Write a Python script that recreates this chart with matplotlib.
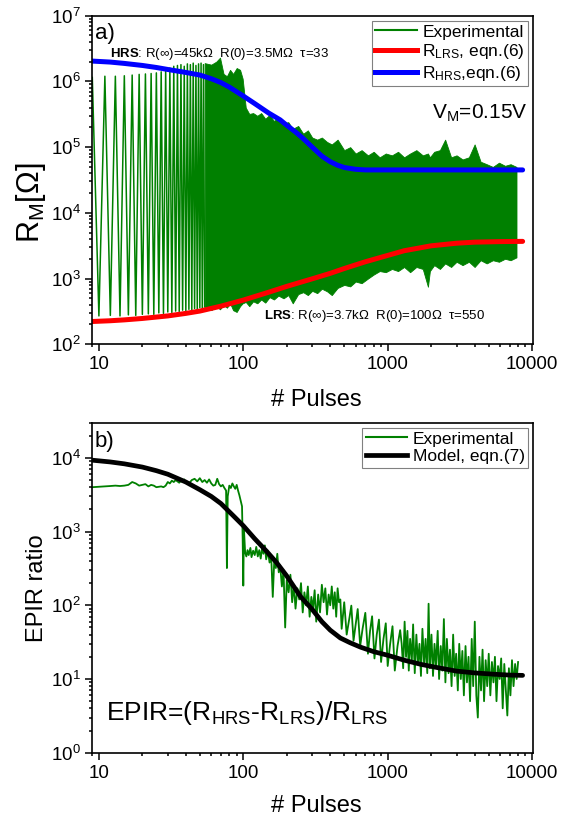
import numpy as np
import matplotlib.pyplot as plt
from matplotlib import ticker
from matplotlib.lines import Line2D

plt.rcParams['font.family'] = ['Liberation Sans', 'DejaVu Sans']
plt.rcParams['mathtext.fontset'] = 'custom'
plt.rcParams['mathtext.rm'] = 'Liberation Sans'
plt.rcParams['mathtext.it'] = 'Liberation Sans:italic'
plt.rcParams['mathtext.bf'] = 'Liberation Sans:bold'

GREEN = '#008000'

# ---- panel a) : resistance after each pulse ----
# first pulses: odd pulses read HRS, even pulses read LRS
sparse_high = [1.15e6, 1.2e6, 1.2e6, 1.22e6, 1.25e6, 1.28e6, 1.3e6, 1.32e6, 1.35e6, 1.4e6, 1.5e6, 1.6e6,
               1.7e6, 1.75e6, 1.8e6, 1.7e6, 1.85e6, 1.8e6, 1.9e6, 1.75e6, 1.85e6, 1.9e6, 1.8e6]
sparse_low = [270, 275, 270, 280, 275, 285, 290, 285, 300, 295, 310, 305, 320, 315, 330, 325, 340, 335,
              350, 340, 360, 355, 370]

# later pulses switch too fast to resolve: upper / lower envelope of the switching band
dense_n = [54, 60, 65, 69, 73, 77, 81, 85, 90, 95, 99, 104, 110, 117, 125, 133, 142, 152, 163, 175, 190,
           205, 220, 240, 260, 280, 300, 325, 350, 380, 410, 450, 500, 550, 600, 660, 730, 800, 880, 970,
           1070, 1180, 1300, 1430, 1580, 1750, 1900, 1960, 2100, 2300, 2500, 2750, 3000, 3300, 3650,
           4000, 4400, 4850, 5350, 5900, 6500, 7100, 7800]
dense_high = [1.9e6, 1.8e6, 2.0e6, 2.3e6, 1.3e6, 1.2e6, 1.5e6, 1.3e6, 1.6e6, 1.5e6, 1.1e6, 4e5, 3.2e5,
              3.3e5, 3.0e5, 3.3e5, 2.7e5, 3.1e5, 2.5e5, 2.8e5, 2.3e5, 2.4e5, 1.9e5, 2.1e5, 1.6e5, 1.8e5,
              1.4e5, 1.3e5, 1.4e5, 1.2e5, 1.1e5, 1.3e5, 9e4, 1.0e5, 8e4, 9e4, 7.5e4, 8.5e4, 7e4, 8e4,
              7.5e4, 8.5e4, 7e4, 8e4, 9e4, 7.5e4, 8e4, 7e4, 8.5e4, 9e4, 1.3e5, 7e4, 7.5e4, 6.5e4, 7e4,
              1.1e5, 6e4, 5.5e4, 5e4, 5.8e4, 5.2e4, 5.5e4, 5e4]
dense_low = [370, 330, 380, 340, 400, 360, 420, 330, 310, 380, 420, 440, 380, 450, 420, 480, 430, 520,
             480, 550, 500, 560, 420, 580, 620, 560, 650, 600, 700, 640, 560, 720, 800, 760, 900, 850,
             1000, 1150, 1300, 1250, 1400, 1300, 1500, 1250, 1500, 1400, 750, 1300, 1600, 1400, 1700,
             1500, 1800, 1600, 1800, 1500, 1900, 1700, 1900, 1800, 2000, 1900, 2100]

# eqn.(6) curves
hrs_n = [9, 12, 15, 20, 25, 30, 40, 50, 60, 70, 80, 100, 120, 150, 180, 200, 230, 260, 300, 350, 400,
         450, 500, 600, 700, 850, 1000, 1500, 2000, 3000, 5000, 8600]
hrs_fit = [2.04e6, 1.97e6, 1.88e6, 1.75e6, 1.63e6, 1.52e6, 1.37e6, 1.25e6, 1.1e6, 9.6e5, 8.2e5, 6e5,
           4.6e5, 3.3e5, 2.6e5, 2.15e5, 1.7e5, 1.35e5, 1.0e5, 7.3e4, 6e4, 5.3e4, 4.9e4, 4.6e4, 4.5e4,
           4.5e4, 4.5e4, 4.5e4, 4.5e4, 4.5e4, 4.5e4, 4.5e4]
lrs_n = [9, 12, 15, 20, 30, 40, 50, 70, 100, 150, 200, 250, 300, 400, 500, 700, 1000, 1300, 1700, 2000,
         3000, 4000, 6000, 8600]
lrs_fit = [222, 228, 235, 247, 270, 295, 320, 380, 470, 620, 760, 880, 990, 1200, 1420, 1800, 2250,
           2650, 2950, 3150, 3450, 3580, 3650, 3680]

# ---- panel b) : EPIR ratio ----
epir_n = [9, 10, 11, 12, 13, 14, 15, 16, 17, 18, 19, 20, 21, 22, 23, 24, 25, 26, 27, 28, 29, 30, 31, 32,
          33, 34, 35, 36, 37, 38, 39, 40, 42, 44, 46, 48, 50, 52, 54, 56, 58, 60, 62, 64, 66, 68, 70,
          72, 74, 76, 77, 78, 80, 82, 84, 86, 88, 90, 92, 94, 96, 98, 99, 100, 101, 103, 105, 107, 109,
          112, 114, 117, 120, 123, 126, 129, 132, 135, 138, 141, 144, 148, 152, 156, 160, 164, 168, 172,
          176, 180, 185, 190, 195, 200, 206, 212, 218, 224, 230, 237, 244, 251, 258, 265, 272, 280, 288,
          296, 304, 312, 320, 330, 340, 350, 360, 370, 380, 390, 400, 410, 420, 430, 440, 450, 460, 470,
          480, 500, 520, 545, 560, 580, 600, 620, 645, 670, 700, 730, 755, 780, 810, 840, 870, 900, 935,
          970, 1000, 1040, 1080, 1120, 1170, 1220, 1250, 1280, 1310, 1340, 1370, 1400, 1430, 1470, 1500,
          1540, 1580, 1620, 1660, 1700, 1740, 1790, 1830, 1880, 1920, 1960, 2010, 2060, 2110, 2160, 2220,
          2270, 2330, 2390, 2450, 2510, 2570, 2640, 2700, 2770, 2840, 2910, 2980, 3060, 3130, 3210, 3290,
          3370, 3460, 3540, 3630, 3720, 3820, 3910, 4010, 4110, 4210, 4320, 4430, 4540, 4650, 4770, 4890,
          5010, 5140, 5270, 5400, 5530, 5670, 5810, 5960, 6110, 6260, 6420, 6580, 6740, 6910, 7080, 7260,
          7440, 7630, 7820, 8000]
epir_val = [4000, 4050, 4100, 4150, 4200, 4150, 4200, 4300, 4700, 4500, 4200, 4300, 4400, 4100, 4300,
            4200, 4000, 4050, 4100, 4000, 4200, 4700, 4500, 4900, 4700, 5000, 4800, 4600, 4900, 4700,
            5100, 4600, 4500, 5000, 5200, 4800, 5300, 4700, 5000, 4600, 5100, 4500, 4200, 4300, 5200,
            4400, 4100, 4300, 3900, 3600, 320, 3000, 4200, 3900, 4500, 4100, 3800, 4300, 3600, 3100,
            2600, 2200, 800, 185, 1100, 520, 460, 560, 480, 600, 450, 550, 480, 620, 460, 560, 430, 600,
            500, 650, 420, 550, 380, 480, 130, 420, 320, 500, 280, 350, 180, 300, 50, 220, 150, 260, 110,
            190, 90, 170, 120, 200, 80, 150, 100, 180, 70, 130, 90, 160, 60, 140, 80, 190, 110, 170, 75,
            140, 100, 180, 90, 150, 70, 170, 110, 120, 48, 110, 40, 70, 99, 33, 55, 89, 28, 48, 79, 22,
            45, 71, 19, 40, 64, 17, 35, 57, 15, 30, 52, 13, 28, 46, 30, 14, 60, 20, 45, 13, 35, 18, 55,
            12, 40, 16, 30, 11, 48, 15, 35, 12, 105, 14, 40, 11, 30, 15, 45, 10, 28, 13, 65, 9, 35, 12,
            25, 8, 40, 11, 22, 7, 30, 10, 24, 6, 28, 9, 20, 5, 35, 8, 60, 6, 3, 20, 7, 25, 5, 18, 8, 22,
            6, 17, 9, 20, 5, 15, 10, 19, 4, 16, 7, 3.2, 14, 6, 18, 8, 16, 10, 17]

# eqn.(7) curve
model_n = [9, 12, 15, 20, 25, 30, 40, 50, 60, 70, 85, 100, 120, 145, 170, 200, 250, 300, 350, 400, 470,
           550, 650, 800, 1000, 1300, 1700, 2200, 3000, 4000, 5500, 7000, 8600]
model_epir = [9300, 8800, 8300, 7500, 6700, 6000, 4700, 3700, 3000, 2400, 1650, 1200, 800, 540, 380,
              250, 130, 88, 60, 46, 36, 31, 27, 23.5, 21, 18, 15.8, 14.3, 12.8, 12.1, 11.6, 11.3, 11.2]

fig = plt.figure(figsize=(5.79, 8.23), dpi=100)
ax1 = fig.add_axes([0.1594, 0.5817, 0.7617, 0.3992])
ax2 = fig.add_axes([0.1594, 0.0854, 0.7617, 0.4010])

# zigzag for the resolved pulses
sp_n = np.arange(9, 9 + 2 * len(sparse_high))
sp_r = np.empty(len(sp_n))
sp_r[0::2] = sparse_high
sp_r[1::2] = sparse_low
ax1.plot(sp_n, sp_r, color=GREEN, lw=1.1)
ax1.fill_between(dense_n, dense_low, dense_high, color=GREEN, lw=0.6, edgecolor=GREEN)
ax1.plot(lrs_n, lrs_fit, color='#ff0000', lw=3.6, solid_capstyle='round')
ax1.plot(hrs_n, hrs_fit, color='#0000ff', lw=3.6, solid_capstyle='round')

ax2.plot(epir_n, epir_val, color=GREEN, lw=1.3)
ax2.plot(model_n, model_epir, color='black', lw=3.4, solid_capstyle='round')

for ax in (ax1, ax2):
    ax.set_xscale('log')
    ax.set_yscale('log')
    ax.set_xlim(9, 10200)
    ax.xaxis.set_major_locator(ticker.FixedLocator([10, 100, 1000, 10000]))
    ax.xaxis.set_major_formatter(ticker.FuncFormatter(lambda v, p: f'{v:g}'))
    ax.xaxis.set_minor_locator(ticker.LogLocator(base=10, subs=np.arange(2, 10), numticks=20))
    ax.yaxis.set_minor_locator(ticker.LogLocator(base=10, subs=np.arange(2, 10), numticks=20))
    ax.yaxis.set_minor_formatter(ticker.NullFormatter())
    ax.tick_params(which='both', direction='out', top=False, right=False, labelsize=13.5, width=1.1)
    ax.tick_params(which='major', length=5)
    ax.tick_params(which='minor', length=2.5)
    for s in ax.spines.values():
        s.set_linewidth(1.2)
    ax.set_xlabel('# Pulses', fontsize=17, va='center')

ax1.set_ylim(1e2, 1e7)
ax2.set_ylim(1, 3e4)
ax1.xaxis.set_label_coords(0.507, -0.17)
ax2.xaxis.set_label_coords(0.507, -0.162)

ax1.set_ylabel(r'R$_\mathrm{M}$[Ω]', fontsize=22, va='center')
ax1.yaxis.set_label_coords(-0.14, 0.43)
ax2.set_ylabel('EPIR ratio', fontsize=17, va='center')
ax2.yaxis.set_label_coords(-0.125, 0.5)

ax1.text(0.006, 0.947, 'a)', transform=ax1.transAxes, fontsize=16, va='center')
ax2.text(0.006, 0.942, 'b)', transform=ax2.transAxes, fontsize=16, va='center')

ax1.text(0.04, 0.885, r'$\mathbf{HRS}$: R(∞)=45kΩ  R(0)=3.5MΩ  τ=33', transform=ax1.transAxes,
         fontsize=9.5, va='center')
ax1.text(0.39, 0.086, r'$\mathbf{LRS}$: R(∞)=3.7kΩ  R(0)=100Ω  τ=550', transform=ax1.transAxes,
         fontsize=9.5, va='center')
ax1.text(0.986, 0.704, r'V$_\mathrm{M}$=0.15V', transform=ax1.transAxes, fontsize=15,
         ha='right', va='center')
ax2.text(0.032, 0.099, r'EPIR=(R$_\mathrm{HRS}$-R$_\mathrm{LRS}$)/R$_\mathrm{LRS}$',
         transform=ax2.transAxes, fontsize=19, va='baseline')

leg_kw = dict(loc='upper right', fontsize=12.5, fancybox=False, framealpha=1, edgecolor='#808080',
              borderpad=0.2, handlelength=2.4, handletextpad=0.3, labelspacing=0.15,
              borderaxespad=0.3)
h1 = [Line2D([], [], color=GREEN, lw=1.5),
      Line2D([], [], color='#ff0000', lw=3.6),
      Line2D([], [], color='#0000ff', lw=3.6)]
l1 = ax1.legend(h1, ['Experimental', r'R$_\mathrm{LRS}$, eqn.(6)', r'R$_\mathrm{HRS}$,eqn.(6)'], **leg_kw)
l1.get_frame().set_linewidth(0.8)
h2 = [Line2D([], [], color=GREEN, lw=1.5),
      Line2D([], [], color='black', lw=3.4)]
l2 = ax2.legend(h2, ['Experimental', 'Model, eqn.(7)'], **leg_kw)
l2.get_frame().set_linewidth(0.8)

fig.savefig('out.png', dpi=100)
